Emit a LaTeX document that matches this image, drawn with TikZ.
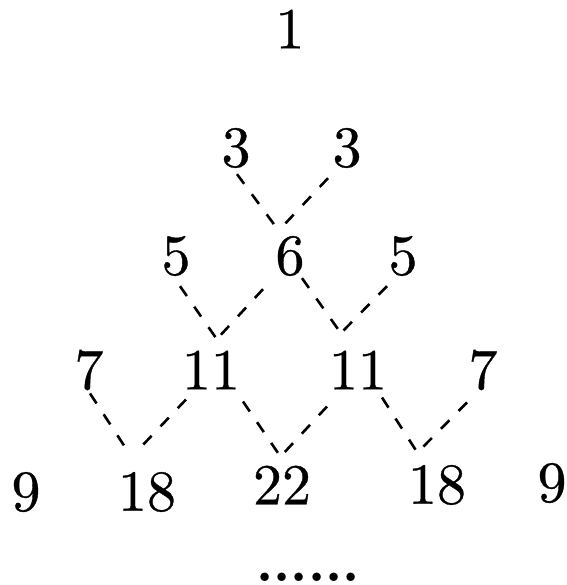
\documentclass[tikz,border=0pt]{standalone}
\usepackage{fontspec}
\newfontfamily\numfont{lmroman10-regular}[Extension=.otf, FakeBold=0.6]
\newfontfamily\dotfont{lmroman10-bold}[Extension=.otf]
\begin{document}
\begin{tikzpicture}[x=1pt,y=-1pt,
  num/.style={inner sep=0pt, font=\numfont\fontsize{58}{60}\selectfont},
  link/.style={line width=2.6pt, dash pattern=on 12pt off 13pt}]
\useasboundingbox (0,0) rectangle (566,585);

% rows of numbers
\node[num] (r1) at (290,29) {1};

\node[num] (a) at (236,148) {3};
\node[num] (b) at (347,148) {3};

\node[num] (c) at (176,256) {5};
\node[num] (d) at (290,256) {6};
\node[num] (e) at (403,256) {5};

\node[num] (f) at (89,370) {7};
\node[num] (g) at (211,370) {11};
\node[num] (h) at (358,370) {11};
\node[num] (i) at (483,370) {7};

\node[num] (j) at (26,492) {9};
\node[num] (k) at (147,492) {18};
\node[num] (l) at (282,485) {22};
\node[num] (m) at (437,485) {18};
\node[num] (n) at (552,483) {9};

\node[inner sep=0pt, font=\dotfont\fontsize{54}{56}\selectfont] (dots) at (308,577) {......};

% ends of the dashed links
\coordinate (v1l) at (276,227);
\coordinate (v1r) at (282,227);
\coordinate (v2l) at (216,338);
\coordinate (v2r) at (217,339);
\coordinate (v3l) at (340,332);
\coordinate (v3r) at (341,333);
\coordinate (v4l) at (125,447);
\coordinate (v4r) at (140,448);
\coordinate (v5l) at (278,453);
\coordinate (v5r) at (282,455);
\coordinate (v6l) at (417,452);
\coordinate (v6r) at (418,452);

% dashed links
\draw[link] (a.south) ++(1,6)    -- (v1l);
\draw[link] (b.south) ++(-19,10) -- (v1r);
\draw[link] (c.south) ++(4,10)   -- (v2l);
\draw[link] (d.south) ++(-27,13) -- (v2r);
\draw[link] (d.south) ++(12,2)   -- (v3l);
\draw[link] (e.south) ++(-16,10) -- (v3r);
\draw[link] (f.south) ++(1,3)    -- (v4l);
\draw[link] (g.south) ++(-25,10) -- (v4r);
\draw[link] (g.south) ++(32,12)  -- (v5l);
\draw[link] (h.south) ++(-31,17) -- (v5r);
\draw[link] (h.south) ++(24,8)   -- (v6l);
\draw[link] (i.south) ++(-16,12) -- (v6r);
\end{tikzpicture}
\end{document}
